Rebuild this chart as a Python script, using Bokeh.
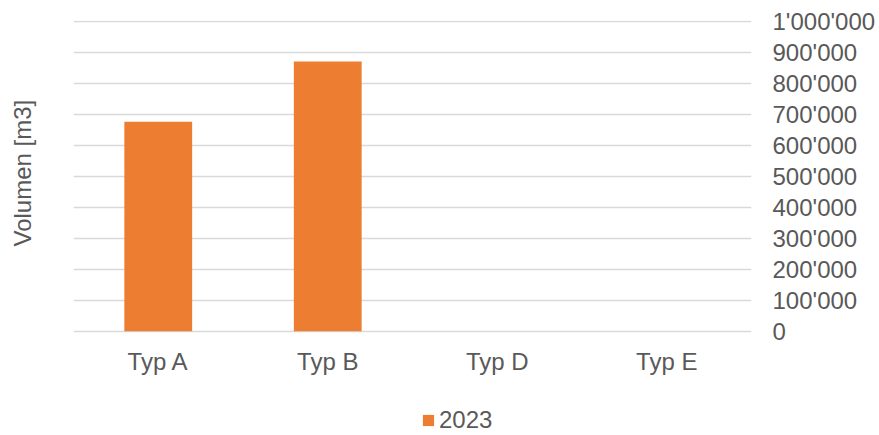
from bokeh.plotting import figure
from bokeh.models import (FactorRange, Range1d, FixedTicker, CustomJSTickFormatter,
                          Legend, LegendItem, ColumnDataSource)
from bokeh.core.properties import value
from bokeh.embed import file_html
from bokeh.resources import INLINE

categories = ["Typ A", "Typ B", "Typ D", "Typ E"]
values_2023 = [676000, 870000, 0, 0]
series_name = "2023"
y_label = "Volumen [m3]"
y_ticks = [0, 100000, 200000, 300000, 400000, 500000, 600000, 700000, 800000, 900000, 1000000]

FONT = "Liberation Sans"
TXT = "#595959"
GRID = "#D9D9D9"
BAR = "#ED7D31"

src = ColumnDataSource(data=dict(cat=categories, val=values_2023, base=[0] * len(categories)))

# the frame reaches the bottom edge so the legend can sit inside it; 0 lands at the category line
p = figure(width=879, height=435, output_backend="svg", toolbar_location=None,
           x_range=FactorRange(*categories, range_padding=0),
           y_range=Range1d(-336500, 1002300),
           x_axis_location=None, y_axis_location="right",
           min_border_left=73, min_border_right=128, min_border_top=20, min_border_bottom=0,
           title=y_label, title_location="left")
p.outline_line_color = None
p.background_fill_color = "white"
p.border_fill_color = "white"

p.title.text_font = FONT
p.title.text_font_size = "24px"
p.title.text_font_style = "normal"
p.title.text_color = TXT
p.title.align = "left"
p.title.offset = 189
p.title.standoff = 0
p.title.padding = dict(left=0, right=0, top=0, bottom=38)

r = p.vbar(x="cat", top="val", width=0.4, source=src, fill_color=BAR, line_color=None)

# category labels
p.text(x="cat", y="base", text="cat", source=src, y_offset=30, text_align="center",
       text_baseline="middle", text_font=value(FONT), text_font_size="24px", text_color=TXT)

# right value axis
ya = p.yaxis[0]
ya.ticker = FixedTicker(ticks=y_ticks)
ya.formatter = CustomJSTickFormatter(code="""
return Math.round(tick).toString().replace(/\\B(?=(\\d{3})+(?!\\d))/g, "'");
""")
ya.axis_line_color = None
ya.major_tick_line_color = None
ya.minor_tick_line_color = None
ya.major_tick_out = 0
ya.major_label_standoff = 21
ya.major_label_text_font = FONT
ya.major_label_text_font_size = "24px"
ya.major_label_text_color = TXT

p.xgrid.grid_line_color = None
p.ygrid.grid_line_color = GRID
p.ygrid.grid_line_width = 1.3

legend = Legend(items=[LegendItem(label=series_name, renderers=[r])],
                location=(348, 1), orientation="horizontal",
                padding=0, margin=0, spacing=0, border_line_color=None,
                background_fill_alpha=0, glyph_width=14, glyph_height=14,
                label_standoff=4, label_text_font=FONT,
                label_text_font_size="24px", label_text_color=TXT)
p.add_layout(legend, "center")

open("out.html", "w").write(file_html(p, INLINE))
